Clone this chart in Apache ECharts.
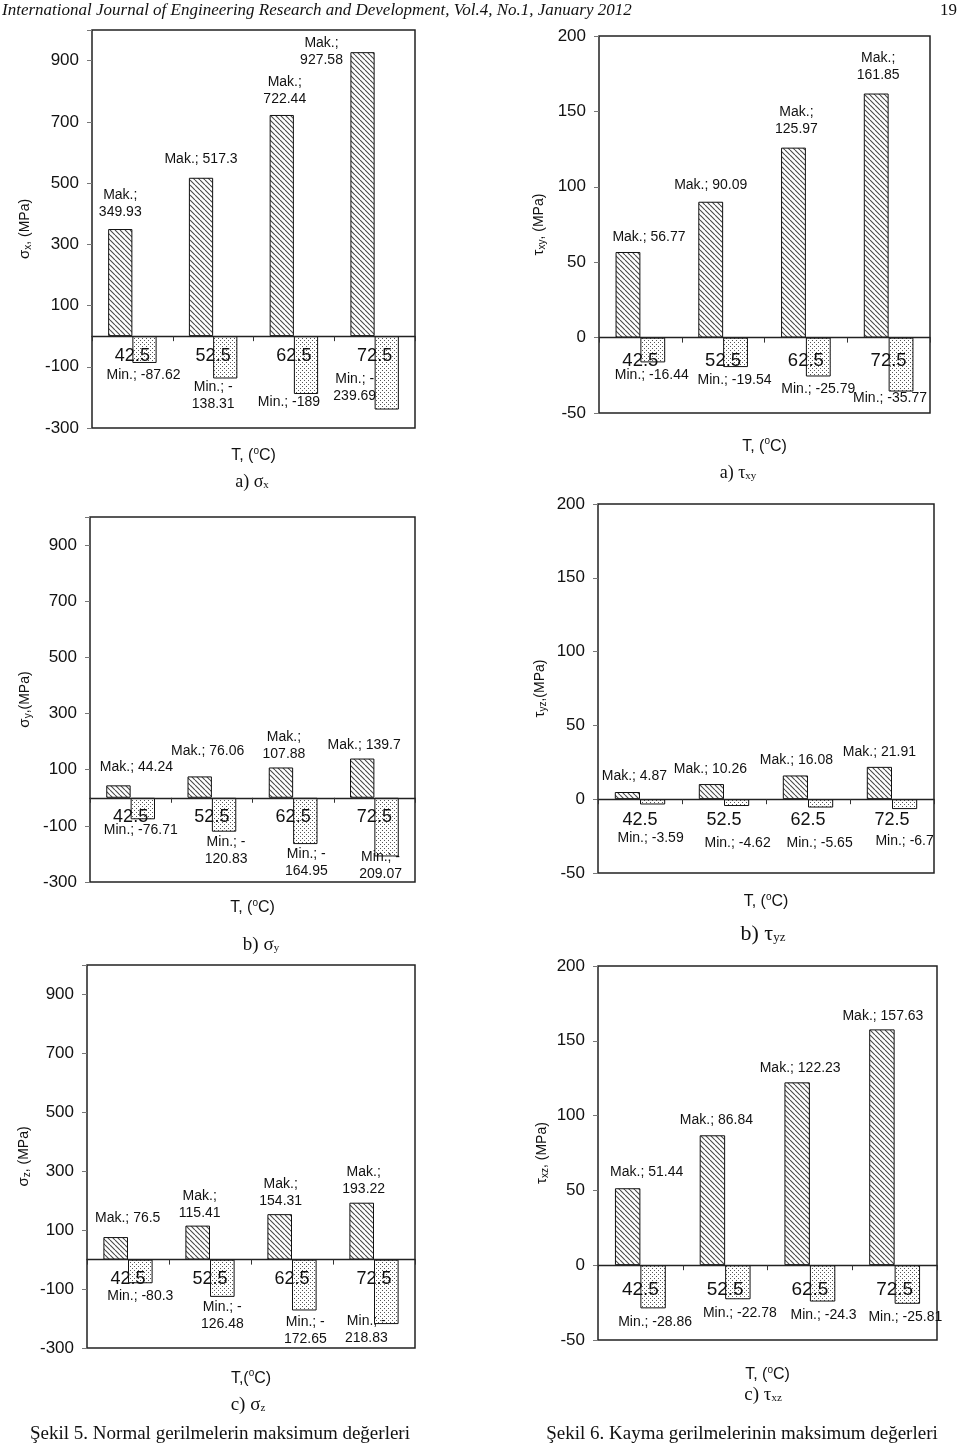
<!DOCTYPE html>
<html>
<head>
<meta charset="utf-8">
<script src="https://cdn.jsdelivr.net/npm/echarts/dist/echarts.min.js"></script>
<style>
html,body{margin:0;padding:0;background:#fff;}
#chart{width:960px;height:1446px;}
</style>
</head>
<body>
<div id="chart"></div>
<script>
// ---------- DATA ----------
const temps = ['42.5', '52.5', '62.5', '72.5'];

const sigmaXMax = [349.93, 517.3, 722.44, 927.58];
const sigmaXMin = [-87.62, -138.31, -189, -239.69];
const tauXYMax = [56.77, 90.09, 125.97, 161.85];
const tauXYMin = [-16.44, -19.54, -25.79, -35.77];
const sigmaYMax = [44.24, 76.06, 107.88, 139.7];
const sigmaYMin = [-76.71, -120.83, -164.95, -209.07];
const tauYZMax = [4.87, 10.26, 16.08, 21.91];
const tauYZMin = [-3.59, -4.62, -5.65, -6.7];
const sigmaZMax = [76.5, 115.41, 154.31, 193.22];
const sigmaZMin = [-80.3, -126.48, -172.65, -218.83];
const tauXZMax = [51.44, 86.84, 122.23, 157.63];
const tauXZMin = [-28.86, -22.78, -24.3, -25.81];

const normalRange = [-300, 1000];
const normalStep = 200;
const shearRange = [-50, 200];
const shearStep = 50;

// ---------- STYLE ----------
const SANS = '"Liberation Sans", Arial, sans-serif';
const SERIF = '"Liberation Serif", "Times New Roman", serif';

function hatchPattern() {
  const s = 5, c = document.createElement('canvas');
  c.width = s; c.height = s;
  const g = c.getContext('2d');
  g.fillStyle = '#fff'; g.fillRect(0, 0, s, s);
  g.strokeStyle = '#4a4a4a'; g.lineWidth = 1.1;
  g.beginPath();
  [-s, 0, s].forEach(k => { g.moveTo(k, 0); g.lineTo(k + s, s); });
  g.stroke();
  return c;
}
function dotPattern() {
  const s = 4, c = document.createElement('canvas');
  c.width = s; c.height = s;
  const g = c.getContext('2d');
  g.fillStyle = '#fff'; g.fillRect(0, 0, s, s);
  g.fillStyle = '#555';
  g.fillRect(0, 0, 1, 1); g.fillRect(2, 2, 1, 1);
  return c;
}
const hatch = hatchPattern();
const dots = dotPattern();

const panels = [
  { left: 92, top: 30, width: 323, height: 398, range: normalRange, step: normalStep, hideMax: true,
    maxV: sigmaXMax, minV: sigmaXMin, yName: ['σ', 'x', ', (MPa)'], yGap: 59, xSep: ', ', xGap: 110,
    catMargin: 11, catSize: 18,
    makWrap: [1, 0, 1, 1], makOff: [[0, -3], [0, -5], [3, -2], [-41, 21]],
    minWrap: [0, 1, 0, 1], minOff: [[-1, -1], [-12, -5], [-17, -5], [-32, -44]] },
  { left: 599, top: 36, width: 331, height: 377, range: shearRange, step: shearStep, hideMax: false,
    maxV: tauXYMax, minV: tauXYMin, yName: ['τ', 'xy', ', (MPa)'], yGap: 52, xSep: ', ', xGap: 99,
    catMargin: 14, catSize: 18.5,
    makWrap: [0, 0, 1, 1], makOff: [[21, -1], [0, -3], [3, -5], [2, -5]],
    minWrap: [0, 0, 0, 0], minOff: [[-1, -1], [-1, 0], [0, -1], [-11, -7]] },
  { left: 90, top: 517, width: 325, height: 365, range: normalRange, step: normalStep, hideMax: true,
    maxV: sigmaYMax, minV: sigmaYMin, yName: ['σ', 'y', ',(MPa)'], yGap: 57, xSep: ', ', xGap: 100,
    catMargin: 10, catSize: 18,
    makWrap: [0, 0, 1, 0], makOff: [[18, -5], [8, -12], [3, 0], [2, 0]],
    minWrap: [0, 1, 1, 1], minOff: [[-2, -3], [2, -3], [1, -3], [-6, -13]] },
  { left: 598, top: 504, width: 336, height: 369, range: shearRange, step: shearStep, hideMax: false,
    maxV: tauYZMax, minV: tauYZMin, yName: ['τ', 'yz', ',(MPa)'], yGap: 50, xSep: ', ', xGap: 93,
    catMargin: 12, catSize: 18,
    makWrap: [0, 0, 0, 0], makOff: [[7, -2], [-1, -1], [1, -2], [0, -1]],
    minWrap: [0, 0, 0, 0], minOff: [[-2, 20], [1, 24], [-1, 22], [0, 19]] },
  { left: 87, top: 965, width: 328, height: 383, range: normalRange, step: normalStep, hideMax: true,
    maxV: sigmaZMax, minV: sigmaZMin, yName: ['σ', 'z', ', (MPa)'], yGap: 55, xSep: ',', xGap: 109,
    catMargin: 10, catSize: 18,
    makWrap: [0, 1, 1, 1], makOff: [[12, -5], [2, 1], [1, 0], [2, 0]],
    minWrap: [0, 1, 1, 1], minOff: [[0, -1], [0, -3], [1, -2], [-20, -16]] },
  { left: 598, top: 966, width: 339, height: 374, range: shearRange, step: shearStep, hideMax: false,
    maxV: tauXZMax, minV: tauXZMin, yName: ['τ', 'xz', ', (MPa)'], yGap: 48, xSep: ', ', xGap: 100,
    catMargin: 15, catSize: 19,
    makWrap: [0, 0, 0, 0], makOff: [[19, -3], [4, -2], [3, -1], [1, 0]],
    minWrap: [0, 0, 0, 0], minOff: [[2, 0], [2, 0], [1, 0], [-2, 0]] }
];

const grids = [], xAxes = [], yAxes = [], series = [];
const labelStyle = { fontFamily: SANS, fontSize: 14, lineHeight: 17, color: '#111', align: 'center' };

panels.forEach((p, i) => {
  // distance from the grid bottom up to the zero value, so the category axis sits on zero
  const zeroLift = p.height * (0 - p.range[0]) / (p.range[1] - p.range[0]);
  grids.push({ left: p.left, top: p.top, width: p.width, height: p.height,
    show: true, borderColor: '#222', borderWidth: 1.5, backgroundColor: 'transparent' });
  xAxes.push({
    type: 'category', gridIndex: i, data: temps, position: 'bottom', offset: -zeroLift,
    axisLine: { onZero: false, lineStyle: { color: '#222', width: 1.3 } },
    axisTick: { show: true, length: 5, lineStyle: { color: '#333' } },
    axisLabel: { interval: 0, margin: p.catMargin, fontSize: p.catSize, color: '#111', fontFamily: SANS },
    name: '{a|T' + p.xSep + '(}{o|o}{a|C)}', nameLocation: 'middle', nameGap: p.xGap,
    nameTextStyle: { rich: {
      a: { fontFamily: SANS, fontSize: 16, color: '#111' },
      o: { fontFamily: SANS, fontSize: 10, color: '#111', padding: [0, 0, 9, 0] } } },
    z: 5
  });
  yAxes.push({
    type: 'value', gridIndex: i, min: p.range[0], max: p.range[1], interval: p.step,
    axisLine: { show: false },
    axisTick: { show: true, length: 5, lineStyle: { color: '#777' } },
    splitLine: { show: false },
    axisLabel: { margin: 13, fontSize: 17, color: '#111', fontFamily: SANS,
      formatter: v => (p.hideMax && v === p.range[1] ? '' : String(v)) },
    name: '{g|' + p.yName[0] + '}{s|' + p.yName[1] + '}{n|' + p.yName[2] + '}',
    nameLocation: 'middle', nameGap: p.yGap, nameRotate: 90,
    nameTextStyle: { rich: {
      g: { fontFamily: SANS, fontSize: 15, color: '#111' },
      s: { fontFamily: SANS, fontSize: 10, color: '#111', padding: [6, 0, 0, 0] },
      n: { fontFamily: SANS, fontSize: 14, color: '#111' } } }
  });
  series.push({
    type: 'bar', name: 'Mak.', xAxisIndex: i, yAxisIndex: i,
    barGap: '0%', barCategoryGap: '40%',
    itemStyle: { color: { image: hatch, repeat: 'repeat' }, borderColor: '#111', borderWidth: 1 },
    data: p.maxV.map((v, j) => ({ value: v, label: { offset: p.makOff[j] } })),
    label: Object.assign({ show: true, position: 'top', distance: 5,
      formatter: prm => (p.makWrap[prm.dataIndex] ? 'Mak.;\n' + prm.value : 'Mak.; ' + prm.value) }, labelStyle)
  });
  series.push({
    type: 'bar', name: 'Min.', xAxisIndex: i, yAxisIndex: i,
    barGap: '0%', barCategoryGap: '40%',
    itemStyle: { color: { image: dots, repeat: 'repeat' }, borderColor: '#111', borderWidth: 1 },
    data: p.minV.map((v, j) => ({ value: v, label: { offset: p.minOff[j] } })),
    label: Object.assign({ show: true, position: 'bottom', distance: 5,
      formatter: prm => (p.minWrap[prm.dataIndex] ? 'Min.; -\n' + (-prm.value) : 'Min.; ' + prm.value) }, labelStyle)
  });
});

function caption(x, y, main, greek, sub, size) {
  return { type: 'text', x: x, y: y, z: 10,
    style: { text: '{m|' + main + '}{g|' + greek + '}{s|' + sub + '}', textAlign: 'center', textVerticalAlign: 'middle',
      rich: {
        m: { fontFamily: SERIF, fontSize: size, fill: '#111' },
        g: { fontFamily: SERIF, fontSize: size, fill: '#111' },
        s: { fontFamily: SERIF, fontSize: Math.round(size * 0.6), fill: '#111', padding: [size * 0.35, 0, 0, 0] } } } };
}
function plainText(x, y, text, font, align) {
  return { type: 'text', x: x, y: y, z: 10,
    style: { text: text, font: font, fill: '#111', textAlign: align, textVerticalAlign: 'middle' } };
}

const graphics = [
  plainText(2, 11, 'International Journal of Engineering Research and Development, Vol.4, No.1, January 2012', 'italic 17px ' + SERIF, 'left'),
  plainText(957, 11, '19', '17px ' + SERIF, 'right'),
  caption(252, 482, 'a) ', 'σ', 'x', 18),
  caption(738, 473, 'a) ', 'τ', 'xy', 18),
  caption(261, 945, 'b) ', 'σ', 'y', 19),
  caption(763, 934, 'b) ', 'τ', 'yz', 22),
  caption(248, 1405, 'c) ', 'σ', 'z', 19),
  caption(763, 1395, 'c) ', 'τ', 'xz', 19),
  plainText(220, 1434, 'Şekil 5. Normal gerilmelerin maksimum değerleri', '19px ' + SERIF, 'center'),
  plainText(742, 1434, 'Şekil 6. Kayma gerilmelerinin maksimum değerleri', '19px ' + SERIF, 'center')
];

const chart = echarts.init(document.getElementById('chart'), null, { renderer: 'canvas' });
chart.setOption({
  backgroundColor: '#fff',
  animation: false,
  grid: grids,
  xAxis: xAxes,
  yAxis: yAxes,
  series: series,
  graphic: graphics
});
</script>
</body>
</html>
